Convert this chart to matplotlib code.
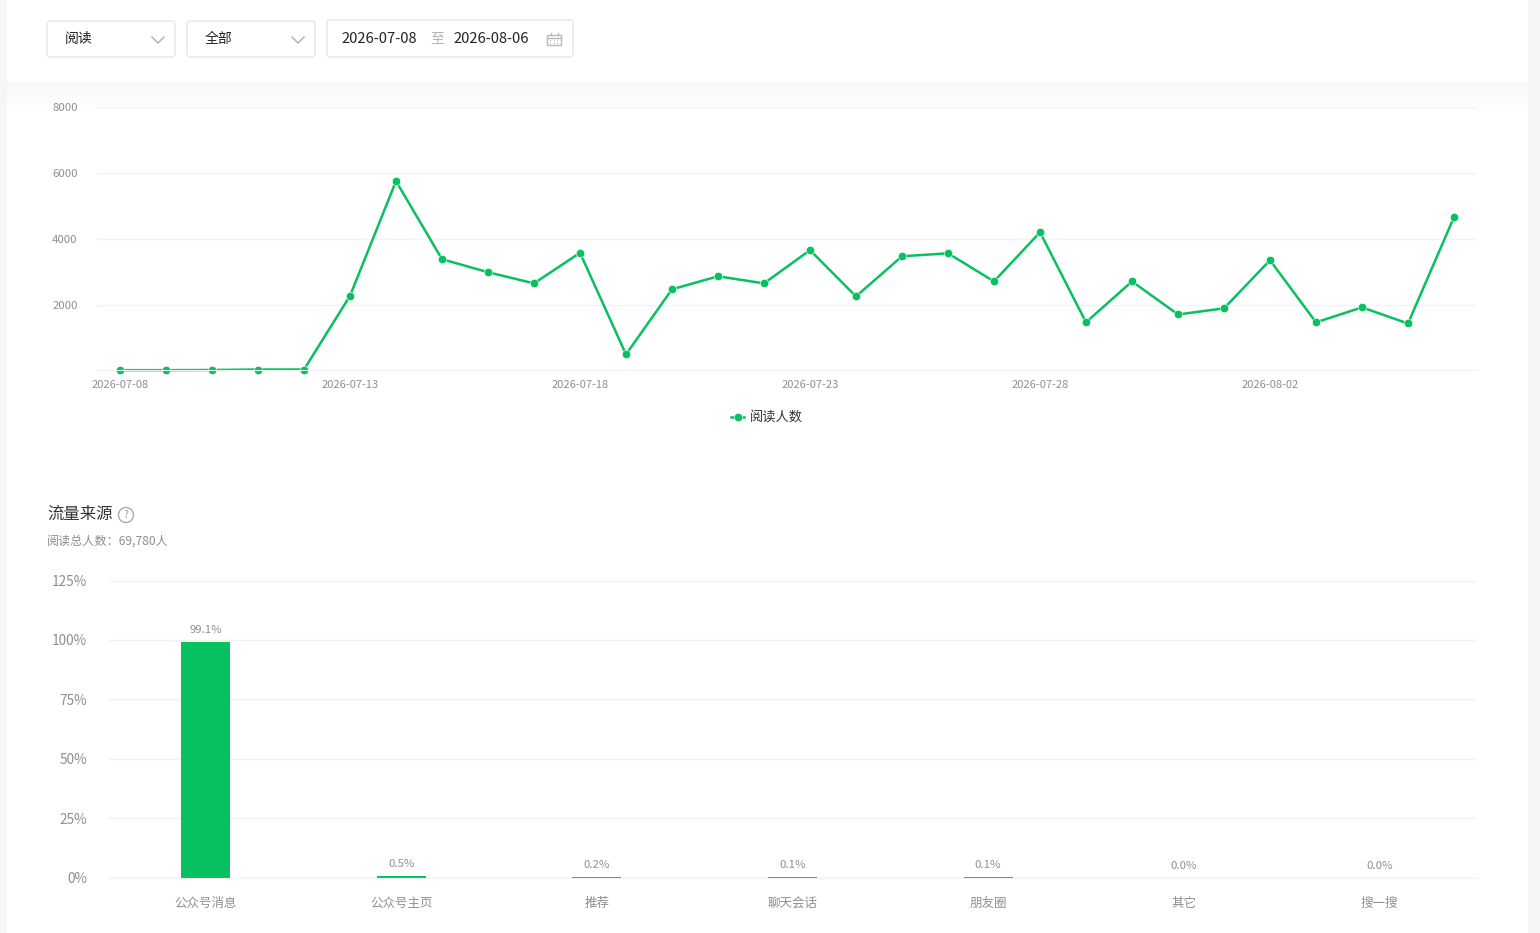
import matplotlib
matplotlib.use('Agg')
import matplotlib.pyplot as plt
import numpy as np
from matplotlib.patches import FancyBboxPatch, Circle, Rectangle

plt.rcParams['font.family'] = ['Noto Sans CJK SC', 'DejaVu Sans']

W, H = 1540, 933

# Daily readers
dates = ['2026-07-08', '2026-07-09', '2026-07-10', '2026-07-11', '2026-07-12',
         '2026-07-13', '2026-07-14', '2026-07-15', '2026-07-16', '2026-07-17',
         '2026-07-18', '2026-07-19', '2026-07-20', '2026-07-21', '2026-07-22',
         '2026-07-23', '2026-07-24', '2026-07-25', '2026-07-26', '2026-07-27',
         '2026-07-28', '2026-07-29', '2026-07-30', '2026-07-31', '2026-08-01',
         '2026-08-02', '2026-08-03', '2026-08-04', '2026-08-05', '2026-08-06']
readers = [10, 10, 15, 30, 30,
           2270, 5760, 3385, 2990, 2650,
           3580, 490, 2470, 2865, 2650,
           3660, 2255, 3475, 3565, 2710,
           4205, 1465, 2710, 1705, 1890,
           3355, 1465, 1920, 1430, 4665]
y_ticks = [2000, 4000, 6000, 8000]

# Traffic sources
sources = ['公众号消息', '公众号主页', '推荐', '聊天会话', '朋友圈', '其它', '搜一搜']
shares = [99.1, 0.5, 0.2, 0.1, 0.1, 0.0, 0.0]
share_ticks = [0, 25, 50, 75, 100, 125]

GREEN = '#07c160'
GRID = '#f2f3f3'
GREY = '#8f8f8f'


def px_axes(left, top, right, bottom):
    return fig.add_axes([left / W, 1 - bottom / H, (right - left) / W, (bottom - top) / H])


fig = plt.figure(figsize=(W / 100, H / 100), dpi=100, facecolor='#f5f6f8')

# page background, header shadow and controls, in pixel coordinates
page = fig.add_axes([0, 0, 1, 1], zorder=0)
page.set_xlim(0, W)
page.set_ylim(H, 0)
page.axis('off')
page.add_patch(Rectangle((7, 0), 1521, H, fc='white', ec='none'))
page.imshow(np.linspace(0.965, 1, 30).reshape(-1, 1), cmap='gray', vmin=0, vmax=1,
            extent=(7, 1528, 112, 82), aspect='auto', zorder=1)
page.set_xlim(0, W)
page.set_ylim(H, 0)


def box(x0, y0, x1, y1):
    page.add_patch(FancyBboxPatch((x0 + 3, y0 + 3), x1 - x0 - 6, y1 - y0 - 6,
                                  boxstyle='round,pad=3', fc='white', ec='#e4e6ea', lw=1, zorder=2))


def chevron(cx, cy):
    page.plot([cx - 6, cx, cx + 6], [cy - 3, cy + 3, cy - 3], color='#b5b5b5', lw=1.1, zorder=3)


box(47, 21, 175, 57)
page.text(65, 39, '阅读', fontsize=10, color='#222222', va='center', zorder=3)
chevron(158, 40)
box(187, 21, 315, 57)
page.text(205, 39, '全部', fontsize=10, color='#222222', va='center', zorder=3)
chevron(298, 40)
box(327, 20, 573, 57)
page.text(341, 39, dates[0], fontsize=10.6, color='#222222', va='center', zorder=3)
page.text(437, 38, '至', fontsize=10, color='#b5b5b5', va='center', ha='center', zorder=3)
page.text(453, 39, dates[-1], fontsize=10.6, color='#222222', va='center', zorder=3)

# calendar icon
page.add_patch(Rectangle((547, 35), 14, 10, fc='white', ec='#b9b9b9', lw=1, zorder=3))
page.plot([547, 561], [37.5, 37.5], color='#b9b9b9', lw=1, zorder=3)
page.plot([550.5, 550.5, np.nan, 557.5, 557.5], [33, 35, np.nan, 33, 35], color='#b9b9b9', lw=1, zorder=3)
for gx in (550.5, 554, 557.5):
    for gy in (40, 43):
        page.add_patch(Rectangle((gx - 0.5, gy - 0.5), 1, 1, fc='#b9b9b9', ec='none', zorder=3))

# section heading
page.text(47, 514, '流量来源', fontsize=11.8, color='#333333', va='center', zorder=3)
page.add_patch(Circle((126, 515), 7.5, fc='white', ec='#aaaaaa', lw=1, zorder=3))
page.text(126, 515, '?', fontsize=7.5, color='#999999', va='center', ha='center', zorder=4)
page.text(47, 541, '阅读总人数：69,780人', fontsize=8.7, color=GREY, va='center', zorder=3)

# line chart
ax = px_axes(97, 107.5, 1477, 370.5)
ax.patch.set_alpha(0)
x = np.arange(len(dates))
line, = ax.plot(x, readers, color=GREEN, lw=1.8, marker='o', ms=6,
                mec='white', mew=0.4, label='阅读人数', clip_on=False)
ax.set_xlim(-0.5, len(dates) - 0.5)
ax.set_ylim(0, 8000)
ax.set_yticks(y_ticks)
ax.set_yticklabels([str(v) for v in y_ticks], fontsize=8.2, color=GREY)
ax.set_xticks(x[::5])
ax.set_xticklabels(dates[::5], fontsize=8, color=GREY)
ax.tick_params(length=0)
ax.tick_params(axis='y', pad=14)
ax.tick_params(axis='x', pad=7)
ax.grid(axis='y', color=GRID, lw=1)
ax.set_axisbelow(True)
for name, spine in ax.spines.items():
    spine.set_visible(name == 'bottom')
    spine.set_color(GRID)
fig.legend(handles=[line], loc='center', bbox_to_anchor=(767 / W, 1 - 418 / H), frameon=False,
           fontsize=9.5, labelcolor='#333333', handlelength=1, handletextpad=0.4, markerscale=1)

# bar chart
ax2 = px_axes(108, 580.5, 1477, 877.5)
ax2.patch.set_alpha(0)
pos = np.arange(len(sources))
ax2.bar(pos, shares, width=0.25, color=GREEN)
for p, v in zip(pos, shares):
    ax2.annotate(f'{v:.1f}%', (p, v), xytext=(0, 5), textcoords='offset points', ha='center',
                 va='bottom', fontsize=8.2, color=GREY)
ax2.set_xlim(-0.5, len(sources) - 0.5)
ax2.set_ylim(0, 125)
ax2.set_yticks(share_ticks)
ax2.set_yticklabels([f'{v}%' for v in share_ticks], fontsize=9.8, color=GREY)
ax2.set_xticks(pos)
ax2.set_xticklabels(sources, fontsize=9, color=GREY)
ax2.tick_params(length=0)
ax2.tick_params(axis='y', pad=15)
ax2.tick_params(axis='x', pad=14)
ax2.grid(axis='y', color=GRID, lw=1)
ax2.set_axisbelow(True)
for name, spine in ax2.spines.items():
    spine.set_visible(name == 'bottom')
    spine.set_color(GRID)

fig.savefig('out.png', dpi=100, facecolor=fig.get_facecolor())
